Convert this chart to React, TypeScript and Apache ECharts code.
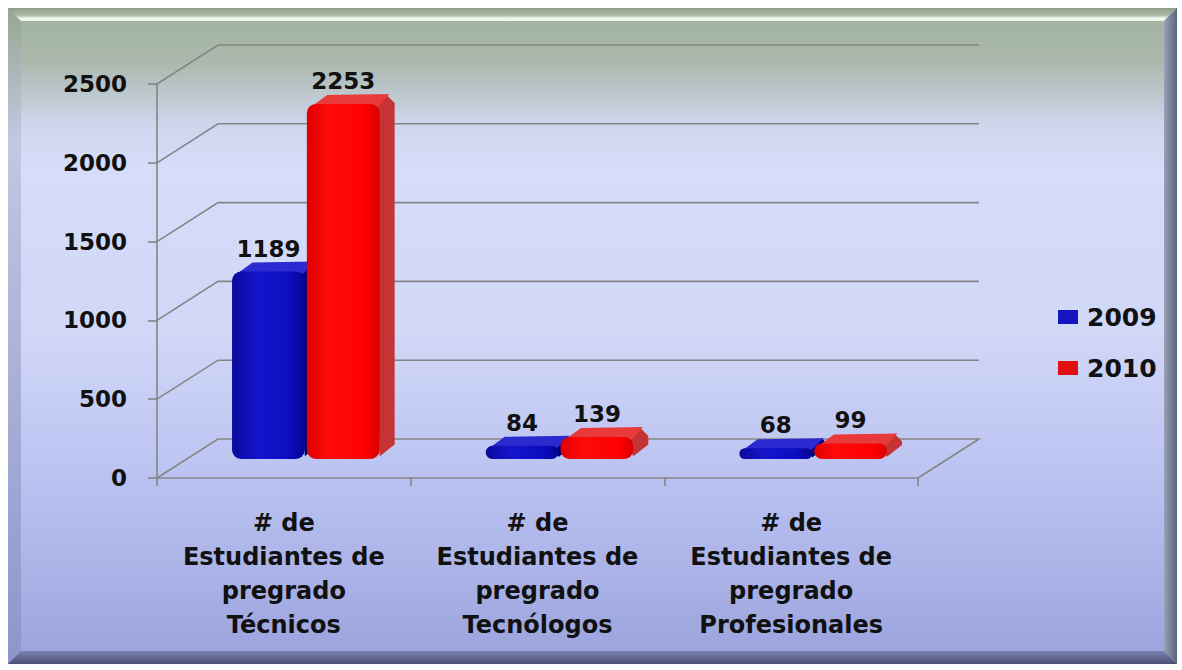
import React, { useEffect, useRef } from "react";
import * as echarts from "echarts";

const categories = [
  "# de\nEstudiantes de\npregrado\nTécnicos",
  "# de\nEstudiantes de\npregrado\nTecnólogos",
  "# de\nEstudiantes de\npregrado\nProfesionales",
];
const seriesNames = ["2009", "2010"];
const values2009 = [1189, 84, 68];
const values2010 = [2253, 139, 99];
const yTicks = [0, 500, 1000, 1500, 2000, 2500];

// 3D geometry (pixels)
const WALL_DX = 61;
const WALL_DY = 39;
const BAR_DX = 22;
const BAR_DY = 19;
const DEPTH_X = 15;
const DEPTH_Y = 10;
const BAR_FRAC = 0.287;

const FONT = '"DejaVu Sans", sans-serif';

const palettes = [
  {
    front: new echarts.graphic.LinearGradient(0, 0, 1, 0, [
      { offset: 0, color: "#0a0a9a" },
      { offset: 0.35, color: "#1515cc" },
      { offset: 0.8, color: "#0c0cc0" },
      { offset: 1, color: "#05058e" },
    ]),
    side: "#00007a",
    top: "#2a2ad0",
    legend: "#1414c0",
  },
  {
    front: new echarts.graphic.LinearGradient(0, 0, 1, 0, [
      { offset: 0, color: "#e00000" },
      { offset: 0.3, color: "#ff0a0a" },
      { offset: 0.8, color: "#ff0000" },
      { offset: 1, color: "#d80000" },
    ]),
    side: "#c43434",
    top: "#e83a3a",
    legend: "#e01010",
  },
];

function makeBarRenderer(side: number) {
  const pal = palettes[side];
  return (params: any, api: any) => {
    const ci = api.value(0);
    const v = api.value(1);
    const base = api.coord([ci, 0]);
    const topP = api.coord([ci, v]);
    const band = api.size([1, 0])[0];
    const w = band * BAR_FRAC;
    const cx = base[0] + BAR_DX;
    const x0 = side === 0 ? cx - w - 1 : cx + 1;
    const yb = base[1] - BAR_DY;
    const yt = topP[1] - BAR_DY;
    const h = Math.max(yb - yt, 1);
    const r = Math.min(9, h / 2);
    return {
      type: "group",
      children: [
        {
          type: "polygon",
          shape: {
            points: [
              [x0 + w - r, yt],
              [x0 + w - r + DEPTH_X, yt - DEPTH_Y],
              [x0 + w + DEPTH_X, yt - DEPTH_Y + r],
              [x0 + w + DEPTH_X, yb - DEPTH_Y - r * 0.5],
              [x0 + w, yb - r * 0.3],
            ],
          },
          style: { fill: pal.side },
        },
        {
          type: "polygon",
          shape: {
            points: [
              [x0 + r * 0.6, yt + 2],
              [x0 + DEPTH_X + r * 0.6, yt - DEPTH_Y + 1],
              [x0 + w + DEPTH_X - r * 0.6, yt - DEPTH_Y],
              [x0 + w - 1, yt + 2],
            ],
          },
          style: { fill: pal.top },
        },
        {
          type: "rect",
          shape: { x: x0, y: yt, width: w, height: h, r: r },
          style: { fill: pal.front },
        },
        {
          type: "text",
          style: {
            text: String(v),
            x: x0 + w / 2,
            y: yt - DEPTH_Y - 13,
            align: "center",
            verticalAlign: "middle",
            font: `bold 23px ${FONT}`,
            fill: "#111111",
          },
        },
      ],
    };
  };
}

function wallRenderer(params: any, api: any) {
  const v = api.value(1);
  const cs = params.coordSys;
  const left = cs.x;
  const right = cs.x + cs.width;
  const y = api.coord([0, v])[1];
  const pts: number[][] = [
    [left, y],
    [left + WALL_DX, y - WALL_DY],
    [right + WALL_DX, y - WALL_DY],
  ];
  if (v === 0) pts.push([right, y]);
  return {
    type: "polyline",
    shape: { points: pts },
    style: { stroke: "#858585", lineWidth: 1.6, fill: null },
  };
}

export default function App() {
  const ref = useRef<HTMLDivElement>(null);
  useEffect(() => {
    if (!ref.current) return;
    const chart = echarts.init(ref.current, undefined, { renderer: "svg" });
    const W = 1182;
    const H = 670;
    const L = 8, T = 8, R = 1177, B = 664, BV = 13;
    chart.setOption({
      animation: false,
      backgroundColor: "#ffffff",
      graphic: [
        {
          type: "rect",
          z: -10,
          shape: { x: L, y: T, width: R - L, height: B - T },
          style: {
            fill: new echarts.graphic.LinearGradient(0, 0, 0, 1, [
              { offset: 0, color: "#a2b39e" },
              { offset: 0.08, color: "#a9b8ab" },
              { offset: 0.18, color: "#cfd7ee" },
              { offset: 0.25, color: "#d6ddfa" },
              { offset: 0.5, color: "#d0d7f7" },
              { offset: 0.75, color: "#b7bff0" },
              { offset: 1, color: "#9aa2dc" },
            ]),
          },
        },
        {
          type: "polygon",
          z: -9,
          shape: { points: [[L, T], [L + BV, T + BV], [L + BV, B - BV], [L, B]] },
          style: {
            fill: new echarts.graphic.LinearGradient(0, 0, 0, 1, [
              { offset: 0, color: "#96a790" },
              { offset: 0.2, color: "#c0c8e2" },
              { offset: 1, color: "#8d95cc" },
            ]),
          },
        },
        {
          type: "polygon",
          z: -9,
          shape: { points: [[L, T], [R, T], [R - BV, T + BV], [L + BV, T + BV]] },
          style: {
            fill: new echarts.graphic.LinearGradient(0, 0, 0, 1, [
              { offset: 0, color: "#8e9e88" },
              { offset: 0.55, color: "#aab9a4" },
              { offset: 0.8, color: "#f4fbf2" },
              { offset: 1, color: "#e9f3e6" },
            ]),
          },
        },
        {
          type: "polygon",
          z: -9,
          shape: { points: [[R, T], [R, B], [R - BV, B - BV], [R - BV, T + BV]] },
          style: {
            fill: new echarts.graphic.LinearGradient(0, 0, 1, 0, [
              { offset: 0, color: "#9aa0b8" },
              { offset: 1, color: "#5e6478" },
            ]),
          },
        },
        {
          type: "polygon",
          z: -9,
          shape: { points: [[L, B], [R, B], [R - BV, B - BV], [L + BV, B - BV]] },
          style: {
            fill: new echarts.graphic.LinearGradient(0, 0, 0, 1, [
              { offset: 0, color: "#7d84b4" },
              { offset: 1, color: "#4a4f70" },
            ]),
          },
        },
      ],
      legend: {
        orient: "vertical",
        left: 1053,
        top: 297,
        itemWidth: 20,
        itemHeight: 14,
        itemGap: 21,
        icon: "rect",
        data: seriesNames,
        textStyle: {
          fontFamily: FONT,
          fontWeight: "bold",
          fontSize: 25,
          color: "#111111",
          lineHeight: 30,
          padding: [0, 0, 0, 4],
        },
      },
      grid: { left: 157, top: 84, right: W - 918, bottom: H - 478, containLabel: false },
      xAxis: {
        type: "category",
        data: categories,
        axisLine: { show: true, lineStyle: { color: "#858585", width: 1.6 } },
        axisTick: { show: true, length: 8, lineStyle: { color: "#858585", width: 1.6 } },
        axisLabel: {
          interval: 0,
          margin: 28,
          fontFamily: FONT,
          fontWeight: "bold",
          fontSize: 24,
          lineHeight: 34,
          color: "#111111",
        },
        splitLine: { show: false },
      },
      yAxis: {
        type: "value",
        min: 0,
        max: 2500,
        interval: 500,
        axisLine: { show: true, lineStyle: { color: "#858585", width: 1.6 } },
        axisTick: { show: true, length: 9, lineStyle: { color: "#858585", width: 1.6 } },
        axisLabel: {
          margin: 30,
          fontFamily: FONT,
          fontWeight: "bold",
          fontSize: 23,
          color: "#111111",
          formatter: (v: number) => String(v),
        },
        splitLine: { show: false },
      },
      series: [
        {
          type: "custom",
          silent: true,
          z: 1,
          clip: false,
          renderItem: wallRenderer,
          encode: { x: 0, y: 1 },
          data: yTicks.map((v) => [0, v]),
        },
        {
          name: seriesNames[0],
          type: "custom",
          z: 3,
          clip: false,
          itemStyle: { color: palettes[0].legend },
          renderItem: makeBarRenderer(0),
          encode: { x: 0, y: 1 },
          data: values2009.map((v, i) => [i, v]),
        },
        {
          name: seriesNames[1],
          type: "custom",
          z: 4,
          clip: false,
          itemStyle: { color: palettes[1].legend },
          renderItem: makeBarRenderer(1),
          encode: { x: 0, y: 1 },
          data: values2010.map((v, i) => [i, v]),
        },
      ],
    });
    return () => chart.dispose();
  }, []);
  return (
    <div
      ref={ref}
      style={{ position: "fixed", left: 0, top: 0, width: 1182, height: 670 }}
    />
  );
}
